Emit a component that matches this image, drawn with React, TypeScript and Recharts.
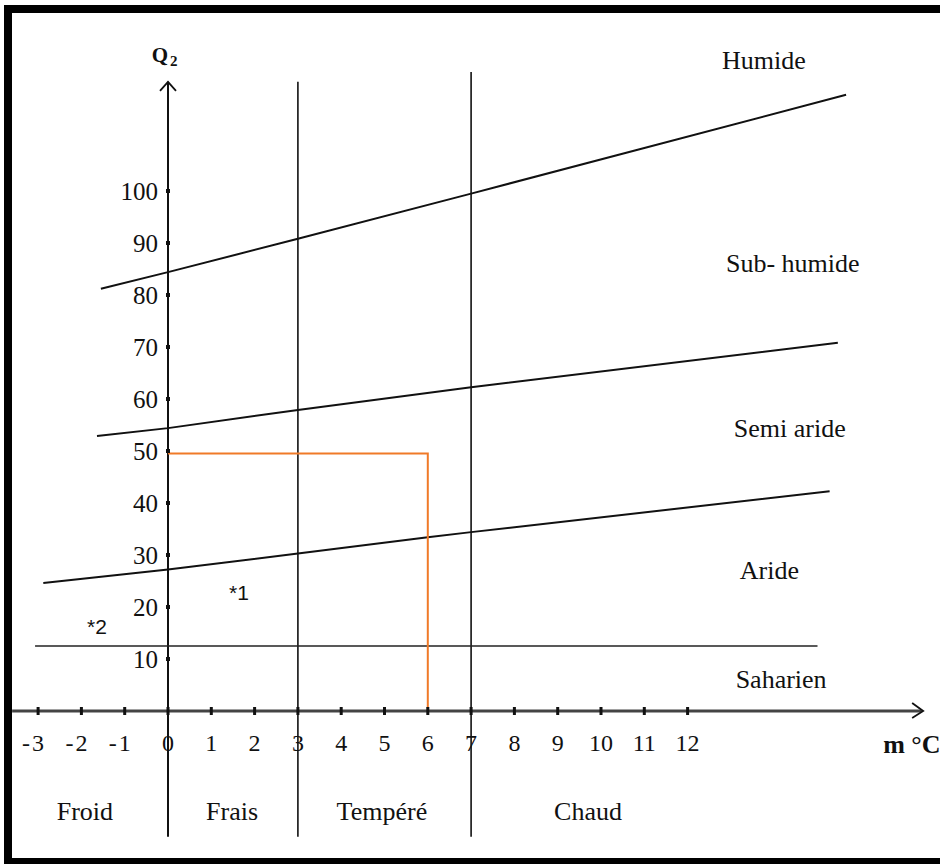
import React from 'react';
import {
  ComposedChart,
  Line,
  Scatter,
  XAxis,
  YAxis,
  ReferenceLine,
  ReferenceDot,
} from 'recharts';

// ---- data (m in °C, Q2) ----
const xTicks = [-3, -2, -1, 0, 1, 2, 3, 4, 5, 6, 7, 8, 9, 10, 11, 12];
const yTicks = [10, 20, 30, 40, 50, 60, 70, 80, 90, 100];

const humideBoundary = [
  { m: -1.55, q: 81.2 },
  { m: 0, q: 84.4 },
  { m: 3, q: 90.8 },
  { m: 7, q: 99.5 },
  { m: 15.66, q: 118.5 },
];
const subHumideBoundary = [
  { m: -1.64, q: 52.9 },
  { m: 0, q: 54.4 },
  { m: 3, q: 57.9 },
  { m: 7, q: 62.25 },
  { m: 15.47, q: 70.8 },
];
const semiArideBoundary = [
  { m: -2.88, q: 24.6 },
  { m: 0, q: 27.2 },
  { m: 3, q: 30.3 },
  { m: 6, q: 33.4 },
  { m: 7, q: 34.4 },
  { m: 15.28, q: 42.25 },
];
const saharienBoundary = [
  { m: -3.07, q: 12.5 },
  { m: 15.0, q: 12.5 },
];
const exampleReading = [
  { m: 0, q: 49.5 },
  { m: 6, q: 49.5 },
  { m: 6, q: 0 },
];
const stations = [
  { m: 1.64, q: 22.7, label: '*1' },
  { m: -1.64, q: 16.2, label: '*2' },
];

const thermalBoundaries = [0, 3, 7];
const thermalBoundaryTops = [121, 121, 122.9];
const thermalBoundaryBottom = -24.2;
const thermalZones = ['Froid', 'Frais', 'Tempéré', 'Chaud'];
const thermalZoneCenters = [-1.92, 1.48, 4.94, 9.7];
const thermalZoneLabelQ = -19.4;

const bioclimates = ['Humide', 'Sub- humide', 'Semi aride', 'Aride', 'Saharien'];
const bioclimateM = [13.76, 14.43, 14.36, 13.89, 14.16];
const bioclimateQ = [124.9, 85.8, 54.2, 26.9, 5.8];

const X_DOMAIN = [-3.6, 17.4];
const Y_DOMAIN = [0, 123];
const yAxisArrowQ = 121;
const xAxisArrowM = 17.44;

const SERIF = '"Liberation Serif", "Times New Roman", serif';
const SANS = '"Liberation Sans", Arial, sans-serif';

const yTickPoints = yTicks.map((q) => ({ m: 0, q }));
const bioclimateLabels = bioclimates.map((name, i) => ({ name, m: bioclimateM[i], q: bioclimateQ[i] }));
const thermalLabels = thermalZones.map((name, i) => ({ name, m: thermalZoneCenters[i], q: thermalZoneLabelQ }));

const XTick = (props: any) => {
  const { x, y, payload } = props;
  const v = payload.value as number;
  return (
    <g>
      <rect x={x - 1.5} y={y - 4} width={3} height={8} fill="#111" />
      <text x={x} y={y + 40} textAnchor="middle" fontSize={24} fontFamily={SERIF} fill="#111">
        {Math.abs(v)}
      </text>
      {v < 0 && (
        <text x={x - 12} y={y + 40} textAnchor="middle" fontSize={24} fontFamily={SERIF} fill="#111">
          -
        </text>
      )}
    </g>
  );
};

const YTickShape = (props: any) => {
  const { cx, cy, payload } = props;
  return (
    <g>
      <rect x={cx - 2} y={cy - 2} width={4} height={4} fill="#111" />
      <text x={cx - 10} y={cy} dy="0.35em" textAnchor="end" fontSize={25} fontFamily={SERIF} fill="#111">
        {payload.q}
      </text>
    </g>
  );
};

const StationShape = (props: any) => {
  const { cx, cy, payload } = props;
  return (
    <text x={cx} y={cy} dy="0.35em" textAnchor="middle" fontSize={21} fontFamily={SANS} fill="#111">
      {payload.label}
    </text>
  );
};

export default function App() {
  return (
    <div style={{ position: 'relative', width: 940, height: 864, overflow: 'hidden', background: '#fff' }}>
      <style>{`body{margin:0;}`}</style>
      <div
        style={{
          position: 'absolute',
          left: 4,
          top: 5,
          width: 1000,
          height: 859,
          boxSizing: 'border-box',
          borderTop: '8px solid #000',
          borderLeft: '8px solid #000',
          borderBottom: '6px solid #000',
        }}
      />
      <div style={{ position: 'absolute', left: 0, top: 0 }}>
        <ComposedChart
          width={940}
          height={864}
          margin={{ top: 71.4, right: 18.58, bottom: 93, left: 12.12 }}
        >
          <XAxis
            type="number"
            dataKey="m"
            domain={X_DOMAIN}
            allowDataOverflow
            ticks={xTicks}
            interval={0}
            height={60}
            tickSize={0}
            tickMargin={0}
            tickLine={false}
            axisLine={{ stroke: '#444', strokeWidth: 3 }}
            tick={<XTick />}
          />
          <YAxis
            hide
            width={0}
            type="number"
            dataKey="q"
            domain={Y_DOMAIN}
            allowDataOverflow
            ticks={yTicks}
          />

          {thermalBoundaries.map((b, i) => (
            <ReferenceLine
              key={`tb${b}`}
              segment={[
                { x: b, y: thermalBoundaryBottom },
                { x: b, y: thermalBoundaryTops[i] },
              ]}
              ifOverflow="visible"
              stroke="#111"
              strokeWidth={b === 0 ? 2 : 1.6}
            />
          ))}

          <Line data={saharienBoundary} dataKey="q" type="linear" stroke="#222" strokeWidth={1.6} dot={false} isAnimationActive={false} />
          <Line data={semiArideBoundary} dataKey="q" type="linear" stroke="#111" strokeWidth={2} dot={false} isAnimationActive={false} />
          <Line data={subHumideBoundary} dataKey="q" type="linear" stroke="#111" strokeWidth={2} dot={false} isAnimationActive={false} />
          <Line data={humideBoundary} dataKey="q" type="linear" stroke="#111" strokeWidth={2} dot={false} isAnimationActive={false} />
          <Line data={exampleReading} dataKey="q" type="linear" stroke="#f07a28" strokeWidth={2} dot={false} isAnimationActive={false} />

          <Scatter data={yTickPoints} dataKey="q" shape={<YTickShape />} isAnimationActive={false} />
          <Scatter data={stations} dataKey="q" shape={<StationShape />} isAnimationActive={false} />

          {bioclimateLabels.map((b) => (
            <ReferenceDot
              key={b.name}
              x={b.m}
              y={b.q}
              ifOverflow="visible"
              shape={(p: any) => (
                <text x={p.cx} y={p.cy + 7.5} textAnchor="middle" fontSize={26} fontFamily={SERIF} fill="#111">
                  {b.name}
                </text>
              )}
            />
          ))}

          {thermalLabels.map((t) => (
            <ReferenceDot
              key={t.name}
              x={t.m}
              y={t.q}
              ifOverflow="visible"
              shape={(p: any) => (
                <text x={p.cx} y={p.cy + 8.5} textAnchor="middle" fontSize={26} fontFamily={SERIF} fill="#111">
                  {t.name}
                </text>
              )}
            />
          ))}

          <ReferenceDot
            x={0}
            y={yAxisArrowQ}
            ifOverflow="visible"
            shape={(p: any) => (
              <g>
                <polyline
                  points={`${p.cx - 8},${p.cy + 9} ${p.cx},${p.cy} ${p.cx + 8},${p.cy + 9}`}
                  fill="none"
                  stroke="#111"
                  strokeWidth={1.8}
                />
                <text x={p.cx - 8} y={p.cy - 20} textAnchor="middle" fontSize={21} fontWeight="bold" fontFamily={SERIF} fill="#111">
                  Q
                </text>
                <text x={p.cx + 2} y={p.cy - 16} textAnchor="start" fontSize={15} fontWeight="bold" fontFamily={SERIF} fill="#111">
                  2
                </text>
              </g>
            )}
          />
          <ReferenceDot
            x={xAxisArrowM}
            y={0}
            ifOverflow="visible"
            shape={(p: any) => (
              <g>
                <polyline
                  points={`${p.cx - 11},${p.cy - 8} ${p.cx},${p.cy} ${p.cx - 11},${p.cy + 7}`}
                  fill="none"
                  stroke="#111"
                  strokeWidth={1.8}
                />
                <text x={p.cx - 40} y={p.cy + 42} textAnchor="start" fontSize={26} fontWeight="bold" fontFamily={SERIF} fill="#111">
                  m °C
                </text>
              </g>
            )}
          />
        </ComposedChart>
      </div>
    </div>
  );
}
